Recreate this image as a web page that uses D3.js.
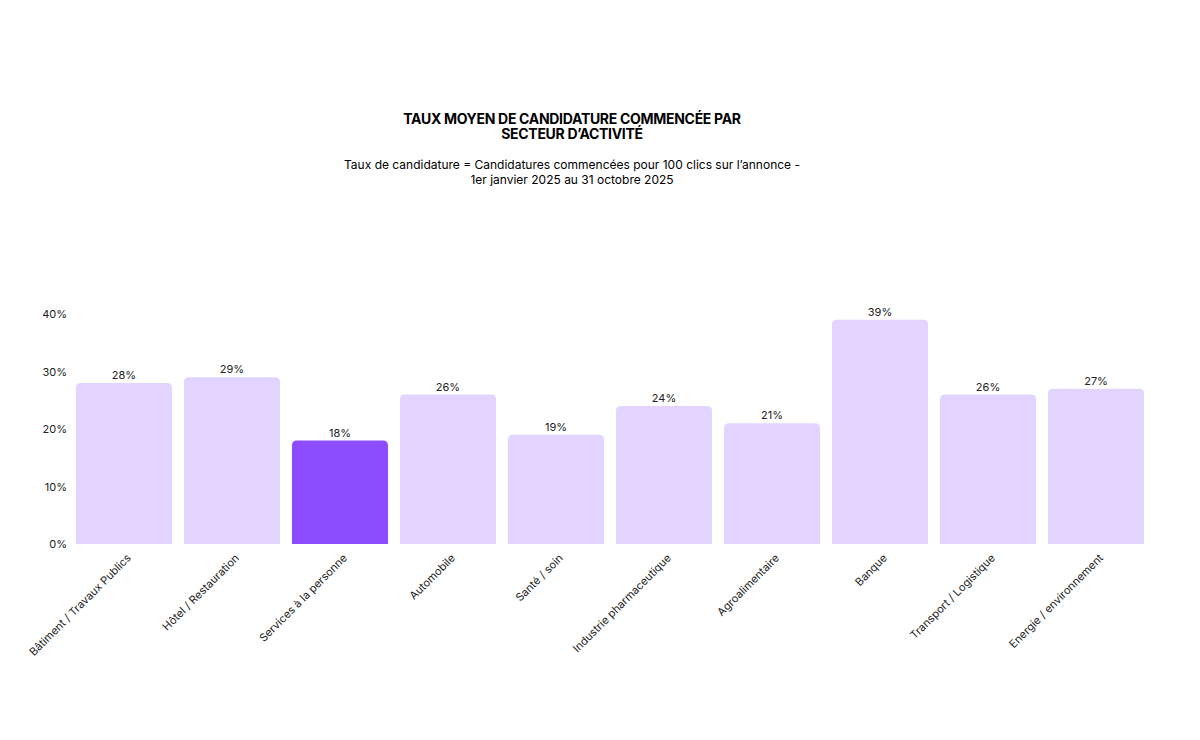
<!DOCTYPE html>
<html><head><meta charset="utf-8">
<script src="https://cdn.jsdelivr.net/npm/d3@7"></script>
<style>body{margin:0;background:#fff;font-family:Inter,"Noto Sans",sans-serif}</style>
</head><body><svg id="c" width="1200" height="740"></svg>
<script>
const categories=["Bâtiment / Travaux Publics","Hôtel / Restauration","Services à la personne","Automobile","Santé / soin","Industrie pharmaceutique","Agroalimentaire","Banque","Transport / Logistique","Energie / environnement"];
const values=[28,29,18,26,19,24,21,39,26,27];
const highlight="Services à la personne";
const yTicks=[0,10,20,30,40];
const svg=d3.select("#c");
const x=d3.scaleBand().domain(categories).range([70,1150]).paddingInner(0.111).paddingOuter(0.055);
const y=d3.scaleLinear().domain([0,40]).range([544,314]);
const r=5;
svg.append("text").attr("x",572).attr("y",124).attr("text-anchor","middle").attr("font-weight",700).attr("font-size",14).attr("letter-spacing","-0.3").text("TAUX MOYEN DE CANDIDATURE COMMENCÉE PAR");
svg.append("text").attr("x",572).attr("y",139).attr("text-anchor","middle").attr("font-weight",700).attr("font-size",14).attr("letter-spacing","-0.3").text("SECTEUR D’ACTIVITÉ");
svg.append("text").attr("x",572).attr("y",169).attr("text-anchor","middle").attr("font-size",12).text("Taux de candidature = Candidatures commencées pour 100 clics sur l’annonce -");
svg.append("text").attr("x",572).attr("y",184).attr("text-anchor","middle").attr("font-size",12).text("1er janvier 2025 au 31 octobre 2025");
const ax=svg.append("g").attr("transform","translate(67,0)").call(d3.axisLeft(y).tickValues(yTicks).tickFormat(d=>d+"%").tickSize(0).tickPadding(0));
ax.select(".domain").remove();
ax.selectAll("text").attr("font-size",11).attr("font-family","Inter,sans-serif").attr("fill","#222");
svg.selectAll("path.bar").data(categories).join("path").attr("class","bar")
 .attr("fill",d=>d===highlight?"#8c4cff":"#e2d3ff")
 .attr("d",(d,i)=>{const x0=x(d),w=x.bandwidth(),y0=y(values[i]),b=y(0);
   return `M${x0},${b}V${y0+r}Q${x0},${y0} ${x0+r},${y0}H${x0+w-r}Q${x0+w},${y0} ${x0+w},${y0+r}V${b}Z`;});
svg.selectAll("text.val").data(categories).join("text").attr("class","val")
 .attr("x",d=>x(d)+x.bandwidth()/2).attr("y",(d,i)=>y(values[i])-4).attr("text-anchor","middle").attr("font-size",11).attr("fill","#222")
 .text((d,i)=>values[i]+"%");
svg.selectAll("text.cat").data(categories).join("text").attr("class","cat")
 .attr("transform",d=>`translate(${x(d)+x.bandwidth()/2+5},${556}) rotate(-45)`).attr("text-anchor","end").attr("dy","0.35em").attr("font-size",11).attr("fill","#222")
 .text(d=>d);
</script></body></html>
